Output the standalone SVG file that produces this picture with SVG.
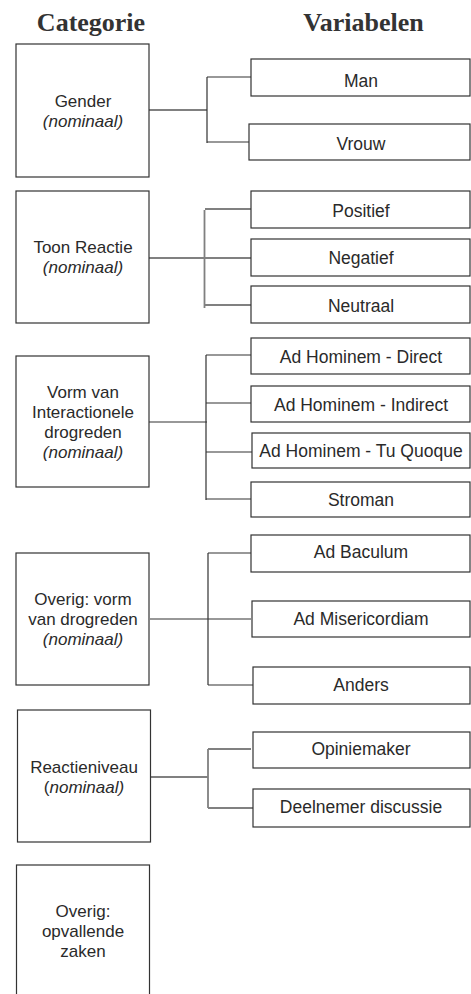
<svg xmlns="http://www.w3.org/2000/svg" width="471" height="994" viewBox="0 0 471 994">
<style>
.hd{font-family:"Liberation Sans",Arial,sans-serif;font-family:"Liberation Serif","Times New Roman",serif;font-weight:bold;font-size:26px;fill:#333;text-anchor:middle}
.cat rect,.var rect{fill:#fff;stroke:#333;stroke-width:1.2}
.cat text{font-family:"Liberation Sans",Arial,sans-serif;font-size:17px;fill:#2a2a2a;text-anchor:middle}
.var text{font-family:"Liberation Sans",Arial,sans-serif;font-size:17.5px;fill:#2a2a2a;text-anchor:middle}
.it{font-style:italic}
.cd{stroke:#333;stroke-width:1.2;fill:none}
.cg{stroke:#808080;stroke-width:1.8;fill:none}
</style>
<rect width="471" height="994" fill="#fff"/>
<text class="hd" x="91" y="31">Categorie</text>
<text class="hd" x="363.5" y="31">Variabelen</text>

<g id="connectors">
<path class="cg" d="M149 110H207"/>
<path class="cd" d="M207 77V143M207 77H251M207 142H249"/>
<path class="cg" d="M149 258H251M204.5 210V308M205 209H251M205 305H251"/>
<path class="cd" d="M149 422H207M206 355V500M206 355H251M206 403H251M206 452H252M206 499H251"/>
<path class="cd" d="M150 619H251M208 553V685M208 553H251M208 685H253"/>
<path class="cg" d="M151 777H208M208 749V808M208 749H251M208 808H253"/>
</g>

<g id="cat-gender" class="cat"><rect x="16" y="44" width="133" height="133"/><text x="83" y="107">Gender</text><text x="83" y="127" class="it">(nominaal)</text></g>
<g id="cat-toon" class="cat"><rect x="16" y="191" width="133" height="132"/><text x="83" y="253">Toon Reactie</text><text x="83" y="273" class="it">(nominaal)</text></g>
<g id="cat-vorm" class="cat"><rect x="16" y="356" width="133" height="131"/><text x="83" y="398">Vorm van</text><text x="83" y="418">Interactionele</text><text x="83" y="438">drogreden</text><text x="83" y="458" class="it">(nominaal)</text></g>
<g id="cat-overig" class="cat"><rect x="16" y="553" width="133" height="132"/><text x="83" y="605">Overig: vorm</text><text x="83" y="625">van drogreden</text><text x="83" y="645" class="it">(nominaal)</text></g>
<g id="cat-reactieniveau" class="cat"><rect x="17.5" y="710" width="133" height="132"/><text x="84" y="773">Reactieniveau</text><text x="84" y="793">(<tspan class="it">nominaal)</tspan></text></g>
<g id="cat-opvallend" class="cat"><rect x="16.5" y="865" width="133" height="134"/><text x="83" y="917">Overig:</text><text x="83" y="937">opvallende</text><text x="83" y="957">zaken</text></g>

<g id="var-man" class="var"><rect x="251" y="59" width="219" height="37"/><text x="361" y="87">Man</text></g>
<g id="var-vrouw" class="var"><rect x="249" y="124" width="221" height="36"/><text x="361" y="150">Vrouw</text></g>
<g id="var-positief" class="var"><rect x="251" y="191" width="219" height="37"/><text x="361" y="216.5">Positief</text></g>
<g id="var-negatief" class="var"><rect x="251" y="239" width="219" height="37"/><text x="361" y="264">Negatief</text></g>
<g id="var-neutraal" class="var"><rect x="251" y="286" width="219" height="37"/><text x="361" y="312">Neutraal</text></g>
<g id="var-direct" class="var"><rect x="251" y="338" width="219" height="36"/><text x="361" y="363">Ad Hominem - Direct</text></g>
<g id="var-indirect" class="var"><rect x="251" y="386" width="219" height="36"/><text x="361" y="411">Ad Hominem - Indirect</text></g>
<g id="var-tuquoque" class="var"><rect x="252" y="433" width="218" height="35"/><text x="361" y="457">Ad Hominem - Tu Quoque</text></g>
<g id="var-stroman" class="var"><rect x="251" y="482" width="219" height="35"/><text x="361" y="506">Stroman</text></g>
<g id="var-baculum" class="var"><rect x="251" y="535" width="219" height="37"/><text x="361" y="558">Ad Baculum</text></g>
<g id="var-misericordiam" class="var"><rect x="252" y="601" width="218" height="36"/><text x="361" y="625">Ad Misericordiam</text></g>
<g id="var-anders" class="var"><rect x="253" y="667" width="217" height="37"/><text x="361" y="691">Anders</text></g>
<g id="var-opiniemaker" class="var"><rect x="253" y="732" width="217" height="36"/><text x="361" y="755">Opiniemaker</text></g>
<g id="var-deelnemer" class="var"><rect x="253" y="789" width="217" height="38"/><text x="361" y="813">Deelnemer discussie</text></g>
</svg>
